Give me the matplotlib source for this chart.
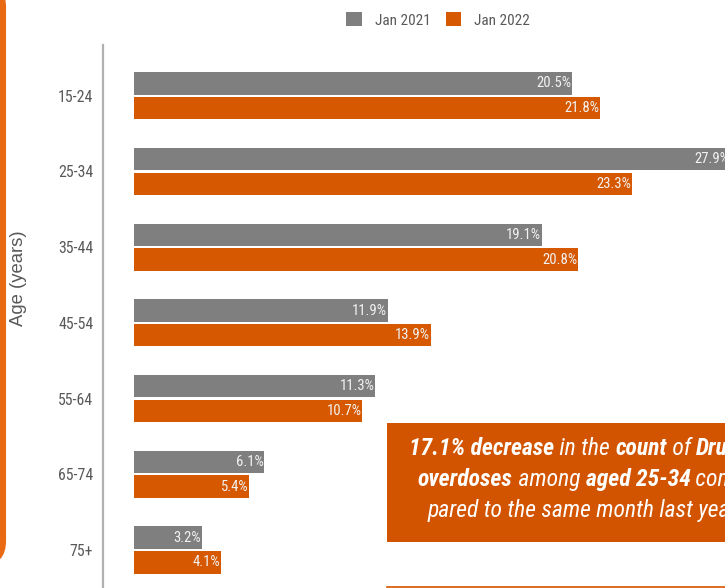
import matplotlib
matplotlib.use("Agg")
import matplotlib.pyplot as plt
from matplotlib import font_manager as fm
from matplotlib.patches import Patch, Rectangle, FancyBboxPatch

# ---- data ----
categories = ['15-24', '25-34', '35-44', '45-54', '55-64', '65-74', '75+']
jan2021 = [20.5, 27.9, 19.1, 11.9, 11.3, 6.1, 3.2]
jan2022 = [21.8, 23.3, 20.8, 13.9, 10.7, 5.4, 4.1]
series_names = ['Jan 2021', 'Jan 2022']

available = {f.name for f in fm.fontManager.ttflist}


def pick(prefs):
    for p in prefs:
        if p in available:
            return p
    return 'DejaVu Sans'


NARROW_NAME = pick(['Liberation Sans Narrow', 'Arial Narrow', 'Roboto Condensed',
                    'Archivo Narrow', 'PT Sans Narrow', 'Liberation Sans'])
ITAL_NAME = pick(['Liberation Sans Narrow', 'Arial Narrow', 'Roboto Condensed',
                  'Archivo Narrow', 'Liberation Sans'])
REG_NAME = pick(['Liberation Sans', 'Arimo', 'DejaVu Sans'])
NARROW = [NARROW_NAME, 'DejaVu Sans']
ITAL = [ITAL_NAME, 'DejaVu Sans']
REG = [REG_NAME, 'DejaVu Sans']
plt.rcParams['font.family'] = NARROW

GRAY = '#7f7f7f'
ORANGE = '#d65800'
BOX = '#d35400'
BORDER = '#ea6a14'
TXT = '#595959'

W, H = 725, 588
fig = plt.figure(figsize=(W / 100, H / 100), dpi=100)
fig.patch.set_facecolor('white')

ax = fig.add_axes([103 / W, 0, 1 - 103 / W, (H - 45) / H])
ax.set_facecolor('none')

ypos = list(range(len(categories)))
off, bh = 0.163, 0.295
ax.barh([y - off for y in ypos], jan2021, height=bh, color=GRAY, zorder=2)
ax.barh([y + off for y in ypos], jan2022, height=bh, color=ORANGE, zorder=2)

for y, v in zip(ypos, jan2021):
    ax.text(v - 0.03, y - off, f'{v:.1f}%', ha='right', va='center',
            color='#f2f2f2', fontsize=10.6, zorder=3)
for y, v in zip(ypos, jan2022):
    ax.text(v - 0.03, y + off, f'{v:.1f}%', ha='right', va='center',
            color='#f2f2f2', fontsize=10.6, zorder=3)

ax.set_xlim(-1.43, 27.67)
ax.set_ylim(6.502, -0.671)
ax.set_yticks(ypos)
ax.set_yticklabels(categories, fontsize=11.4, color=TXT)
ax.tick_params(axis='y', length=0, pad=7)
ax.set_xticks([])
for s in ['top', 'right', 'bottom']:
    ax.spines[s].set_visible(False)
ax.spines['left'].set_color('#b0b0b0')
ax.spines['left'].set_linewidth(1.6)

fig.text(19 / W, 1 - 278 / H, 'Age (years)', rotation=90, ha='center', va='center',
         fontsize=13.3, color=TXT, family=REG)

handles = [Patch(facecolor=GRAY), Patch(facecolor=ORANGE)]
leg = fig.legend(handles, series_names, loc='center', bbox_to_anchor=(438 / W, 1 - 20 / H),
                 ncol=2, frameon=False, fontsize=11, handlelength=1.0, handleheight=1.0,
                 handletextpad=0.85, columnspacing=1.0, borderpad=0)
for t in leg.get_texts():
    t.set_color(TXT)

# ---- overlay in pixel coordinates ----
bg = fig.add_axes([0, 0, 1, 1])
bg.set_xlim(0, W)
bg.set_ylim(H, 0)
bg.set_facecolor('none')
bg.axis('off')

bg.add_patch(FancyBboxPatch((-200, -15), 203, 578,
                            boxstyle='round,pad=0,rounding_size=22',
                            facecolor='none', edgecolor=BORDER, linewidth=4.4, clip_on=False))
bg.add_patch(Rectangle((387, 423), 400, 119, facecolor=BOX, edgecolor='none', clip_on=False))
bg.plot([387, 730], [587, 587], color=BOX, linewidth=1.2, clip_on=False)

lines = [
    (409, 455, [('17.1% decrease', True), (' in the ', False), ('count', True),
                (' of ', False), ('Drug', True)]),
    (418, 486, [('overdoses', True), (' among ', False), ('aged 25-34', True),
                (' com-', False)]),
    (428, 517, [('pared to the same month last year.', False)]),
]
for x0, y0, segs in lines:
    prev = None
    for txt, bold in segs:
        kw = dict(fontsize=17, color='white', style='italic',
                  weight='bold' if bold else 'normal', family=ITAL)
        if prev is None:
            prev = bg.text(x0, y0, txt, ha='left', va='baseline', **kw)
        else:
            prev = bg.annotate(txt, xy=(1, 0), xycoords=prev, ha='left', va='bottom', **kw)

fig.savefig('out.png', dpi=100)
